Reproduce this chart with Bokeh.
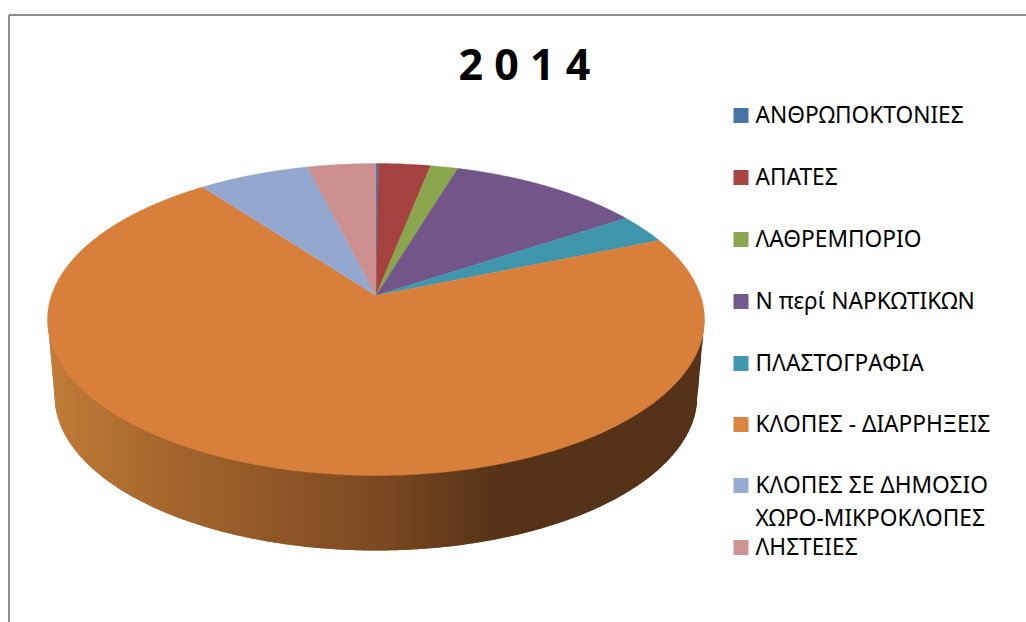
import numpy as np
from bokeh.plotting import figure
from bokeh.models import Range1d
from bokeh.core.properties import value
from bokeh.embed import file_html
from bokeh.resources import INLINE

# ---- data ----
title_text = "2 0 1 4"
categories = ["ΑΝΘΡΩΠΟΚΤΟΝΙΕΣ", "ΑΠΑΤΕΣ", "ΛΑΘΡΕΜΠΟΡΙΟ", "Ν περί ΝΑΡΚΩΤΙΚΩΝ",
              "ΠΛΑΣΤΟΓΡΑΦΙΑ", "ΚΛΟΠΕΣ - ΔΙΑΡΡΗΞΕΙΣ",
              "ΚΛΟΠΕΣ ΣΕ ΔΗΜΟΣΙΟ\nΧΩΡΟ-ΜΙΚΡΟΚΛΟΠΕΣ", "ΛΗΣΤΕΙΕΣ"]
shares = [0.15, 2.95, 1.57, 11.05, 3.03, 71.0, 6.35, 3.9]
colors = ["#44709f", "#a5413f", "#8aa64d", "#725689", "#4096ad", "#d8803b", "#94a8cf", "#cd9090"]
swatch_colors = ["#4673a8", "#a94543", "#8ba64f", "#735a8e", "#4198b0", "#dc853f", "#97abd2", "#d09494"]

# ---- layout (page pixels) ----
cx, apex_y, top_y, bot_y = 375.5, 295.0, 163.0, 475.0
rx_top, cy_top, ry_top = 328.5, 319.0, 156.0
cx_b, rx_bot, cy_bot, ry_bot = 375.5, 321.5, 395.0, 155.0
side_stops_x = [47, 150, 376, 500, 705]
side_stops_c = [(0xc4, 0x7d, 0x39), (0xa9, 0x69, 0x2f), (0x7c, 0x4a, 0x22), (0x56, 0x33, 0x18), (0x56, 0x33, 0x18)]
legend_y = [115, 177, 239, 301, 363, 424, 485, 547]

# perspective projection of the unit disc, fitted to the apex and rim
k = (top_y + bot_y - 2 * apex_y) / (bot_y - top_y)
b = apex_y - top_y * (1 + k)
a = rx_top * np.sqrt(1 - k * k)


def project(theta):
    X, Y = np.sin(theta), np.cos(theta)
    w = 1 + k * Y
    return cx + a * X / w, (apex_y - b * Y) / w


p = figure(width=1026, height=622, toolbar_location=None, output_backend="svg",
           x_range=Range1d(0, 1026), y_range=Range1d(622, 0),
           min_border=0, outline_line_color=None,
           background_fill_color="white", border_fill_color="white")
p.axis.visible = False
p.grid.visible = False

# frame
p.segment([8.5, 8.5], [14.5, 14.5], [1026, 8.5], [14.5, 622], line_color="#8e8e8e", line_width=2)

# side wall: overlapping vertical strips with a left-to-right shading
xs_side, ys_side, cols = [], [], []
edges = np.arange(47.0, 704.0, 2.0)
edges[-1] = 704.0


def upper(x):
    t = np.clip((x - cx) / rx_top, -1, 1)
    return cy_top + ry_top * np.sqrt(1 - t * t) - 1


def lower(x):
    dx = x - cx_b
    if abs(dx) >= rx_bot:
        frac = (abs(dx) - rx_bot) / (rx_top - rx_bot)
        return cy_bot + (cy_top - cy_bot) * min(frac, 1)
    return cy_bot + ry_bot * np.sqrt(1 - (dx / rx_bot) ** 2)


for i, (x0, x1) in enumerate(zip(edges[:-1], edges[1:])):
    x2 = min(x1 + 1.5, edges[-1])
    xs_side.append([x0, x1, x2, x2, x1, x0])
    ys_side.append([upper(x0), upper(x1), upper(x2), lower(x2), lower(x1), lower(x0)])
    mid = (x0 + x1) / 2
    c = [int(np.interp(mid, side_stops_x, [s[j] for s in side_stops_c])) for j in range(3)]
    cols.append("#%02x%02x%02x" % tuple(c))
p.patches(xs_side, ys_side, fill_color=cols, line_color=None)

# top face wedges, computed from the shares
cum = np.concatenate([[0], np.cumsum(shares)]) / sum(shares) * 2 * np.pi
wx, wy = [], []
for s, e in zip(cum[:-1], cum[1:]):
    th = np.linspace(s, e, max(3, int((e - s) * 120)))
    px, py = project(th)
    wx.append([cx] + list(px))
    wy.append([apex_y] + list(py))
p.patches(wx, wy, fill_color=colors, line_color=colors, line_width=0.4)

# title
p.text([524], [63], text=[title_text], text_font=value("Noto Sans"), text_font_style="bold",
       text_font_size="43px", text_align="center", text_baseline="middle", text_color="#000000")

# legend
p.rect([740.5] * len(legend_y), legend_y, width=15, height=15, fill_color=swatch_colors, line_color=None)
lx, ly, lt = [], [], []
for cat, y in zip(categories, legend_y):
    for i, part in enumerate(cat.split("\n")):
        lx.append(755)
        ly.append(y - 1 + i * 33)
        lt.append(part)
p.text(lx, ly, text=lt, text_font=value("Noto Sans"), text_font_size="22.7px",
       text_align="left", text_baseline="middle", text_color="#000000")

open("out.html", "w").write(file_html(p, INLINE))
